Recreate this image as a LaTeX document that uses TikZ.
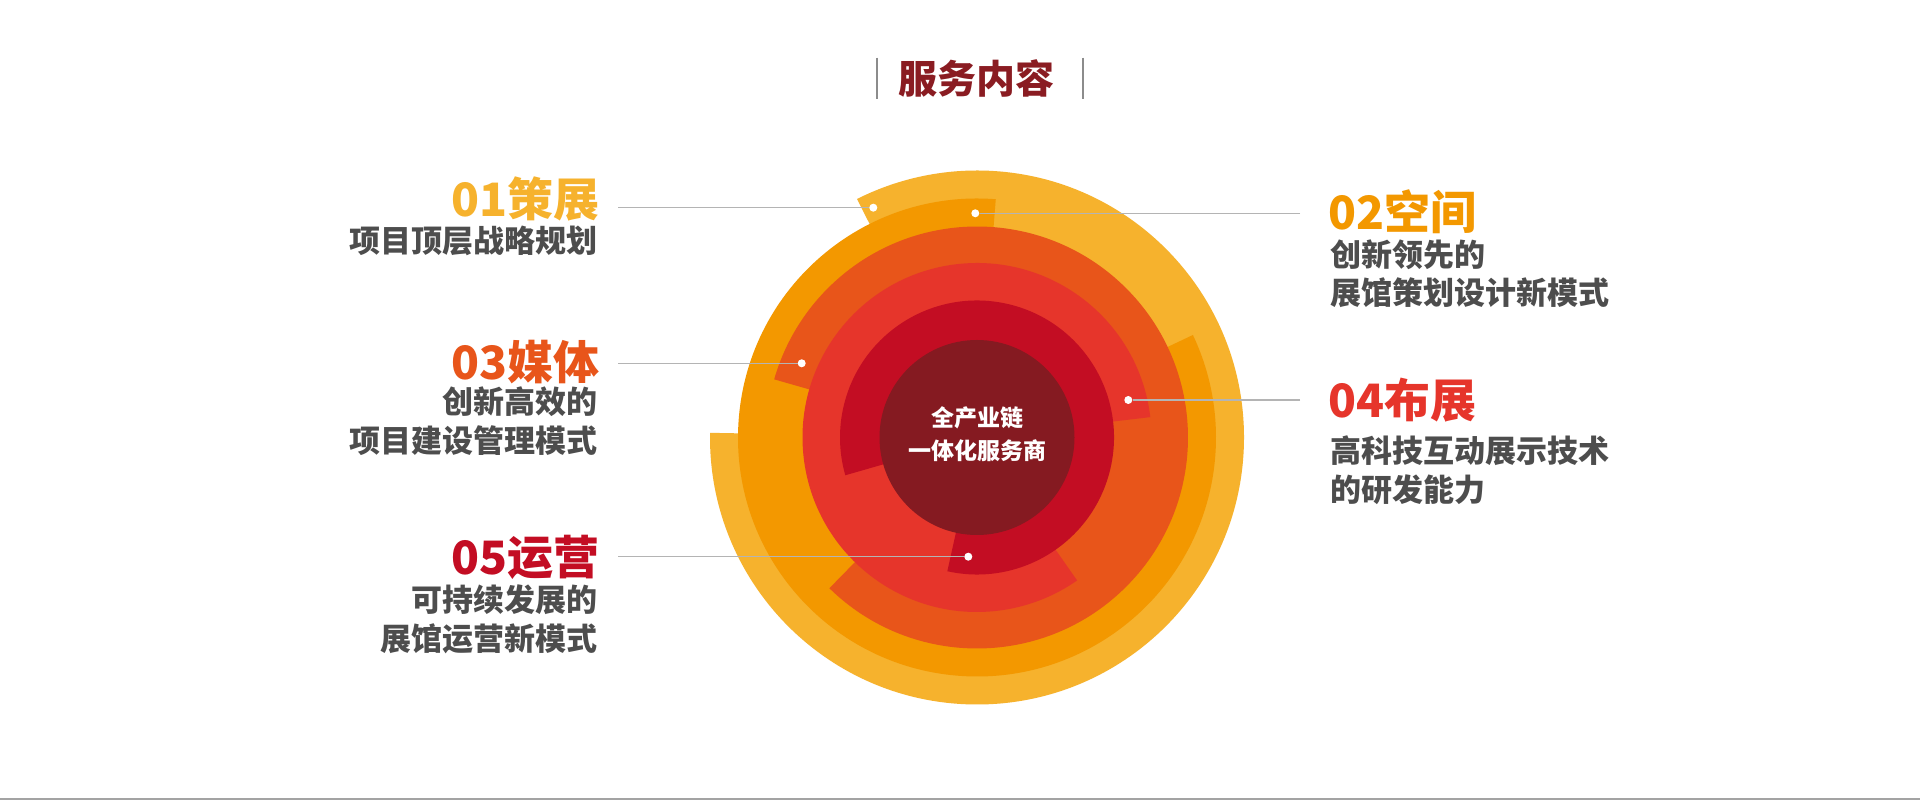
\documentclass[tikz,border=0pt]{standalone}
\usepackage{fontspec}
\setmainfont{Noto Sans CJK SC}
\definecolor{cLO}{HTML}{F6B22D}
\definecolor{cO}{HTML}{F39800}
\definecolor{cRO}{HTML}{E8551A}
\definecolor{cR}{HTML}{E6352B}
\definecolor{cC}{HTML}{C30D23}
\definecolor{cD}{HTML}{851A21}
\definecolor{cTitle}{HTML}{8A1C22}
\definecolor{txtgray}{HTML}{4D4D4D}
\definecolor{leadgray}{HTML}{B4B4B4}
\definecolor{bargray}{HTML}{8C8C8C}
\begin{document}
\begin{tikzpicture}[x=1pt,y=1pt,
  hd/.style={font=\fontsize{46}{46}\selectfont\bfseries, inner sep=0pt},
  subtxt/.style={font=\fontsize{31}{31}\selectfont\bfseries, text=txtgray, inner sep=0pt},
  lead/.style={draw=leadgray, line width=1.3pt},
  dotnode/.style={circle, fill=white, inner sep=0pt, minimum size=8pt},
  bar/.style={draw=bargray, line width=2pt}]
\useasboundingbox (0,0) rectangle (1920,800);
\fill[white] (0,0) rectangle (1920,800);
\fill[bargray!80] (0,0) rectangle (1920,1.5);

% title
\node[font=\fontsize{39}{39}\selectfont\bfseries, text=cTitle, inner sep=0pt] (title) at (976.5,721.3) {服务内容};
\coordinate (b1t) at (876.5,742.3);
\coordinate (b1b) at (876.5,701);
\coordinate (b2t) at (1083,742.3);
\coordinate (b2b) at (1083,701);
\draw[bar] (b1t) -- (b1b);
\draw[bar] (b2t) -- (b2b);

% rings
\coordinate (C) at (977,362.5);
\fill[cLO] (C) -- ++(179:267) arc[start angle=179, end angle=476.7, radius=267] -- cycle;
\fill[cO] (C) -- ++(85.5:239) arc[start angle=85.5, end angle=385.4, radius=239] -- cycle;
\fill[cRO] (C) -- ++(225.6:211) arc[start angle=225.6, end angle=524, radius=211] -- cycle;
\fill[cR] (C) -- ++(6.7:174.5) arc[start angle=6.7, end angle=305, radius=174.5] -- cycle;
\fill[cC] (C) -- ++(257.5:137) arc[start angle=257.5, end angle=556, radius=137] -- cycle;
\fill[cD] (C) circle[radius=97.5];
\node[align=center, text=white, font=\fontsize{23}{33}\selectfont\bfseries, inner sep=0pt] (ctr) at (977,365.6) {全产业链\\一体化服务商};

% leaders and dots
\node[dotnode] (d1) at (873.3,592.3) {};
\node[dotnode] (d2) at (975.3,586.7) {};
\node[dotnode] (d3) at (801.7,436.7) {};
\node[dotnode] (d4) at (1128.3,400) {};
\node[dotnode] (d5) at (968.3,243.3) {};
\coordinate (e1) at (618,592.3);
\coordinate (e2) at (1300,586.7);
\coordinate (e3) at (618,436.7);
\coordinate (e4) at (1300,400);
\coordinate (e5) at (618,243.3);
\draw[lead] (e1) -- (d1);
\draw[lead] (e2) -- (d2);
\draw[lead] (e3) -- (d3);
\draw[lead] (e4) -- (d4);
\draw[lead] (e5) -- (d5);

% left texts
\node[hd, text=cLO, anchor=east] (h1) at (600,601) {01策展};
\node[subtxt, anchor=east] (s1) at (598,559.2) {项目顶层战略规划};
\node[hd, text=cRO, anchor=east] (h3) at (600,437.5) {03媒体};
\node[subtxt, anchor=east] (s3a) at (598,398.4) {创新高效的};
\node[subtxt, anchor=east] (s3b) at (598,359.2) {项目建设管理模式};
\node[hd, text=cC, anchor=east] (h5) at (600,243) {05运营};
\node[subtxt, anchor=east] (s5a) at (598,200) {可持续发展的};
\node[subtxt, anchor=east] (s5b) at (598,161) {展馆运营新模式};

% right texts
\node[hd, text=cO, anchor=west] (h2) at (1328,588.3) {02空间};
\node[subtxt, anchor=west] (s2a) at (1330,545) {创新领先的};
\node[subtxt, anchor=west] (s2b) at (1330,507) {展馆策划设计新模式};
\node[hd, text=cR, anchor=west] (h4) at (1328,399.6) {04布展};
\node[subtxt, anchor=west] (s4a) at (1330,349.4) {高科技互动展示技术};
\node[subtxt, anchor=west] (s4b) at (1330,310.2) {的研发能力};
\end{tikzpicture}
\end{document}
